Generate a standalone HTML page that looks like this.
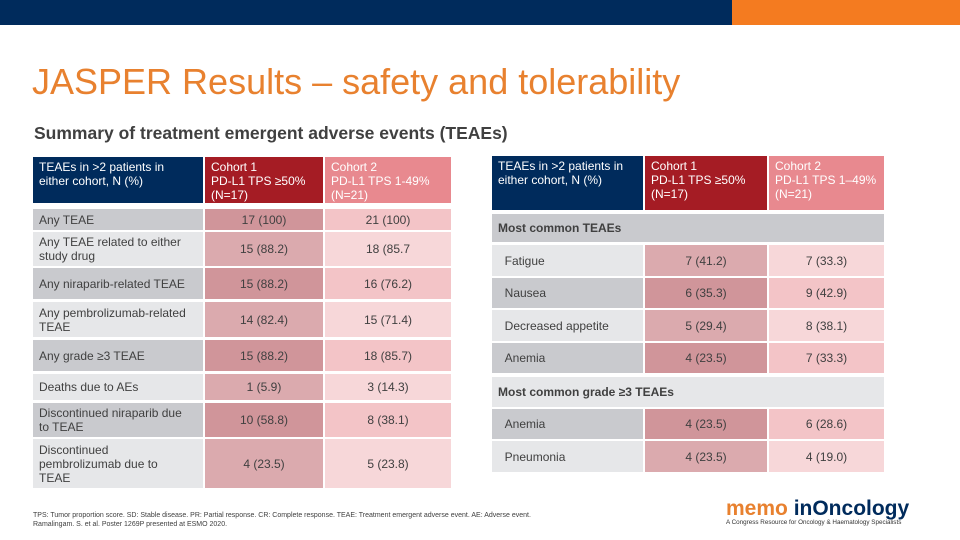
<!DOCTYPE html>
<html><head><meta charset="utf-8">
<style>
body{margin:0;width:960px;height:540px;position:relative;overflow:hidden;background:#fff;font-family:"Liberation Sans",sans-serif;}
.a{position:absolute;box-sizing:border-box;}
.c{position:absolute;box-sizing:border-box;font-size:12px;color:#404040;display:flex;align-items:center;line-height:14px;}
.num{justify-content:center;}
.lab{padding-left:6px;padding-right:8px;}
.hd{align-items:flex-start;padding:3px 6px;color:#fff;font-size:12px;line-height:14px;}
</style></head><body>
<div class="a" style="left:0;top:0;width:732px;height:25px;background:#002b5c"></div>
<div class="a" style="left:732px;top:0;width:228px;height:25px;background:#f47b20"></div>
<div class="a" style="left:32px;top:61px;font-size:36px;color:#e8812f;white-space:nowrap">JASPER Results – safety and tolerability</div>
<div class="a" style="left:34px;top:123px;font-size:17.5px;font-weight:bold;color:#404040;white-space:nowrap">Summary of treatment emergent adverse events (TEAEs)</div>
<div id="tables"></div>
<div class="a" style="left:33px;top:511px;font-size:7px;color:#404040;line-height:9px;white-space:nowrap">TPS: Tumor proportion score. SD: Stable disease. PR: Partial response. CR: Complete response. TEAE: Treatment emergent adverse event. AE: Adverse event.<br>Ramalingam. S. et al. Poster 1269P presented at ESMO 2020.</div>
<div class="a" style="left:726px;top:497px;white-space:nowrap">
<span style="font-size:21px;font-weight:bold;color:#e8812f">memo </span><span style="font-size:21px;font-weight:bold;color:#002b5c">inOncology</span>
<div style="font-size:6.3px;color:#333;margin-top:-2px">A Congress Resource for Oncology &amp; Haematology Specialists</div></div>
<script>
const root=document.getElementById('tables');
function cell(x,y,w,h,bg,cls,html,name){
 const d=document.createElement('div');
 d.className='c '+cls;
 d.style.cssText=`left:${x}px;top:${y}px;width:${w}px;height:${h}px;background:${bg}`;
 d.innerHTML=html;
 
 
 root.appendChild(d);
}
const NAVY='#002b5c',RED='#a51c24',PINK='#e8898f';
const G=['#c9cace','#e6e7e9'],C1=['#d0959a','#dbaaae'],C2=['#f3c4c7','#f7d7d9'];
const LX=[33,205,325],LW=[170,118,126];
const leftHead=['TEAEs in &gt;2 patients in<br>either cohort, N (%)','Cohort 1<br>PD-L1 TPS ≥50%<br>(N=17)','Cohort 2<br>PD-L1 TPS 1-49%<br>(N=21)'];
const leftLabels=['Any TEAE','Any TEAE related to either study drug','Any niraparib-related TEAE','Any pembrolizumab-related TEAE','Any grade ≥3 TEAE','Deaths due to AEs','Discontinued niraparib due to TEAE','Discontinued<br>pembrolizumab due to<br>TEAE'];
const leftC1=['17 (100)','15 (88.2)','15 (88.2)','14 (82.4)','15 (88.2)','1 (5.9)','10 (58.8)','4 (23.5)'];
const leftC2=['21 (100)','18 (85.7','16 (76.2)','15 (71.4)','18 (85.7)','3 (14.3)','8 (38.1)','5 (23.8)'];
const leftY=[[209,21],[232,34],[268,31],[302,35],[340,31],[374,26],[403,34],[439,49]];
cell(LX[0],157,LW[0],46,NAVY,'hd',leftHead[0],'left-header-label');
cell(LX[1],157,LW[1],46,RED,'hd',leftHead[1],'left-header-cohort1');
cell(LX[2],157,LW[2],46,PINK,'hd',leftHead[2],'left-header-cohort2');
leftLabels.forEach((l,i)=>{
 const [y,h]=leftY[i],k=i%2;
 cell(LX[0],y,LW[0],h,G[k],'lab',l,'left-row-label');
 cell(LX[1],y,LW[1],h,C1[k],'num',leftC1[i],'left-cohort1-value');
 cell(LX[2],y,LW[2],h,C2[k],'num',leftC2[i],'left-cohort2-value');
});
const RX=[492,645,769],RW=[151,122,115];
cell(RX[0],156,RW[0],54,NAVY,'hd','TEAEs in &gt;2 patients in<br>either cohort, N (%)','right-header-label');
cell(RX[1],156,RW[1],54,RED,'hd','Cohort 1<br>PD-L1 TPS ≥50%<br>(N=17)','right-header-cohort1');
cell(RX[2],156,RW[2],54,PINK,'hd','Cohort 2<br>PD-L1 TPS 1–49%<br>(N=21)','right-header-cohort2');
const rightRows=[
 {sec:'Most common TEAEs',y:214,h:28,bg:G[0]},
 {l:'Fatigue',a:'7 (41.2)',b:'7 (33.3)',y:245,h:31,k:1},
 {l:'Nausea',a:'6 (35.3)',b:'9 (42.9)',y:278,h:30,k:0},
 {l:'Decreased appetite',a:'5 (29.4)',b:'8 (38.1)',y:310,h:31,k:1},
 {l:'Anemia',a:'4 (23.5)',b:'7 (33.3)',y:343,h:30,k:0},
 {sec:'Most common grade ≥3 TEAEs',y:377,h:30,bg:G[1]},
 {l:'Anemia',a:'4 (23.5)',b:'6 (28.6)',y:409,h:30,k:0},
 {l:'Pneumonia',a:'4 (23.5)',b:'4 (19.0)',y:441,h:31,k:1}];
rightRows.forEach(r=>{
 if(r.sec){cell(RX[0],r.y,392,r.h,r.bg,'lab',`<b>${r.sec}</b>`,'right-section-header');return;}
 cell(RX[0],r.y,RW[0],r.h,G[r.k],'lab','&nbsp;&nbsp;'+r.l,'right-row-label');
 cell(RX[1],r.y,RW[1],r.h,C1[r.k],'num',r.a,'right-cohort1-value');
 cell(RX[2],r.y,RW[2],r.h,C2[r.k],'num',r.b,'right-cohort2-value');
});
</script>
</body></html>
